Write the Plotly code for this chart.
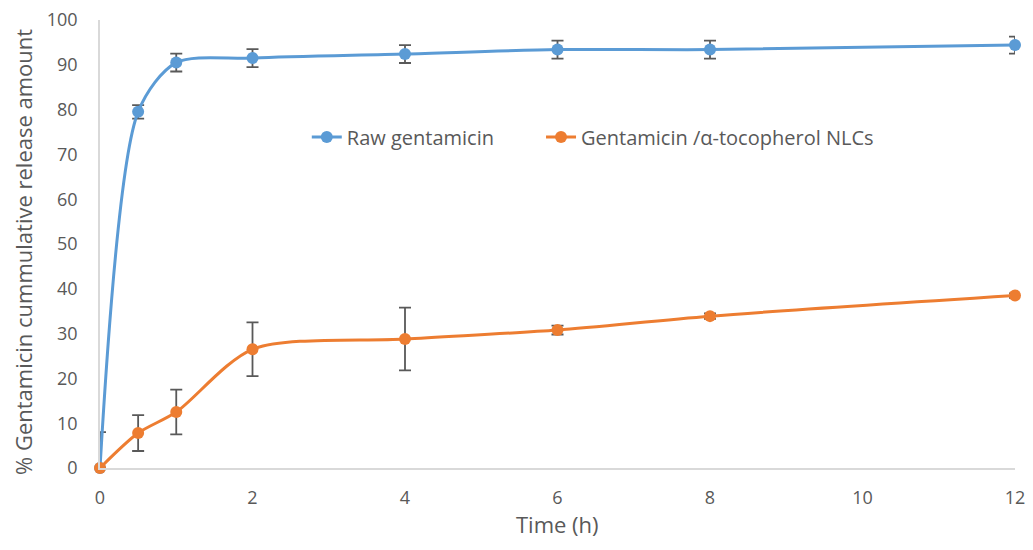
import plotly.graph_objects as go

time_h = [0, 0.5, 1, 2, 4, 6, 8, 12]
raw_gentamicin = [0, 79.5, 90.5, 91.5, 92.4, 93.4, 93.4, 94.4]
raw_err = [8, 1.5, 2, 2, 2, 2, 2, 1.9]
nlc_gentamicin = [0, 7.8, 12.5, 26.5, 28.8, 30.8, 33.9, 38.5]
nlc_err = [0, 4, 5, 6, 7, 1, 0.6, 0.5]
x_ticks = [0, 2, 4, 6, 8, 10, 12]
y_ticks = [0, 10, 20, 30, 40, 50, 60, 70, 80, 90, 100]
x_title = "Time (h)"
y_title = "% Gentamicin cummulative release amount"

font_family = "Open Sans, Noto Sans, sans-serif"
gray_text = "#595959"

fig = go.Figure()
fig.add_trace(go.Scatter(
    x=time_h, y=raw_gentamicin, name="Raw gentamicin",
    mode="lines+markers", line=dict(color="#5B9BD5", width=3, shape="spline", smoothing=0.8),
    marker=dict(color="#5B9BD5", size=12),
    error_y=dict(type="data", array=raw_err, color="#595959", thickness=1.8, width=6),
    cliponaxis=False, legend="legend",
))
fig.add_trace(go.Scatter(
    x=time_h, y=nlc_gentamicin, name="Gentamicin /α-tocopherol NLCs",
    mode="lines+markers", line=dict(color="#ED7D31", width=3, shape="spline", smoothing=0.8),
    marker=dict(color="#ED7D31", size=12),
    error_y=dict(type="data", array=nlc_err, color="#595959", thickness=1.8, width=6),
    cliponaxis=False, legend="legend2",
))

legend_style = dict(orientation="h", y=0.739, xanchor="left", yanchor="middle",
                    bgcolor="rgba(0,0,0,0)", font=dict(size=20, color=gray_text))

fig.update_layout(
    width=1017, height=534,
    margin=dict(l=92, r=10, t=12, b=74),
    paper_bgcolor="white", plot_bgcolor="white",
    font=dict(family=font_family, size=18, color=gray_text),
    showlegend=True,
    legend=dict(x=0.226, **legend_style),
    legend2=dict(x=0.482, **legend_style),
    annotations=[
        dict(text=x_title, xref="paper", yref="paper", x=0.5005, y=-0.126,
             xanchor="center", yanchor="middle", showarrow=False,
             font=dict(size=22, color=gray_text)),
        dict(text=y_title, xref="paper", yref="paper", x=-0.0842, y=0.482,
             xanchor="center", yanchor="middle", showarrow=False, textangle=-90,
             font=dict(size=22, color=gray_text)),
    ],
)
fig.update_xaxes(
    range=[0, 12], tickvals=x_ticks, showgrid=False, zeroline=False,
    showline=True, linecolor="#D9D9D9", linewidth=1.5, automargin=False,
    ticks="", ticklabelstandoff=13, ticklabeloverflow="allow",
    tickfont=dict(size=18, color=gray_text),
)
fig.update_yaxes(
    range=[0, 100], tickvals=y_ticks, showgrid=False, zeroline=False,
    showline=True, linecolor="#D9D9D9", linewidth=1.5, automargin=False,
    ticks="", ticklabelstandoff=17, ticklabeloverflow="allow",
    tickfont=dict(size=18, color=gray_text),
)

fig.write_html("out.html")
